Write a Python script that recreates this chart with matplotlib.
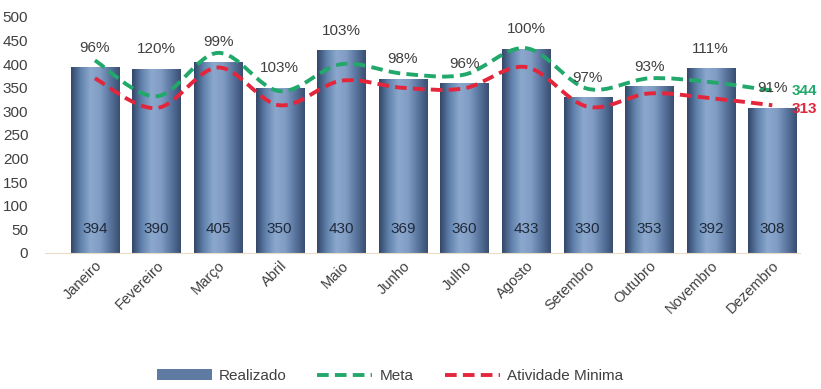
import numpy as np
import matplotlib
import matplotlib.pyplot as plt
from matplotlib.path import Path
from matplotlib.patches import PathPatch, Patch
from matplotlib.lines import Line2D
from matplotlib.colors import LinearSegmentedColormap

matplotlib.rcParams['font.family'] = ['Liberation Sans', 'DejaVu Sans']
matplotlib.rcParams['font.size'] = 10

meses = ['Janeiro', 'Fevereiro', 'Março', 'Abril', 'Maio', 'Junho', 'Julho',
         'Agosto', 'Setembro', 'Outubro', 'Novembro', 'Dezembro']
realizado = [394, 390, 405, 350, 430, 369, 360, 433, 330, 353, 392, 308]
meta = [408, 332, 424, 343, 400, 380, 378, 434, 348, 370, 362, 344]
atividade_minima = [370, 307, 393, 313, 365, 350, 349, 394, 310, 338, 328, 313]
percentuais = ['96%', '120%', '99%', '103%', '103%', '98%', '96%', '100%',
               '97%', '93%', '111%', '91%']

cor_meta = '#22a86a'
cor_min = '#e3263b'
cor_texto = '#404040'

fig = plt.figure(figsize=(8.21, 3.89), dpi=100)
ax = fig.add_axes([45 / 821, 1 - 253 / 389, 755 / 821, 236 / 389])

x = np.arange(len(meses))
bars = ax.bar(x, realizado, width=0.78, color='none', zorder=2)

# gradiente horizontal tipo "cilindro" do Excel
cmap = LinearSegmentedColormap.from_list(
    'barra', ['#34486a', '#6283ad', '#8ca8cd', '#809cc3', '#5a769f', '#3a4f72'])
grad = np.linspace(0, 1, 64).reshape(1, -1)
for b in bars:
    x0, y0 = b.get_x(), b.get_y()
    w, h = b.get_width(), b.get_height()
    im = ax.imshow(grad, cmap=cmap, aspect='auto', extent=(x0, x0 + w, y0, y0 + h),
                   zorder=2, interpolation='bilinear')
    im.set_clip_path(b)


def curva_suave(xs, ys):
    pts = np.column_stack([xs, ys]).astype(float)
    n = len(pts)
    verts = [pts[0]]
    codes = [Path.MOVETO]
    for i in range(n - 1):
        p0 = pts[max(i - 1, 0)]
        p1 = pts[i]
        p2 = pts[i + 1]
        p3 = pts[min(i + 2, n - 1)]
        c1 = p1 + (p2 - p0) / 6
        c2 = p2 - (p3 - p1) / 6
        verts += [c1, c2, p2]
        codes += [Path.CURVE4] * 3
    return Path(verts, codes)


for serie, cor, z in [(atividade_minima, cor_min, 3), (meta, cor_meta, 4)]:
    patch = PathPatch(curva_suave(x, serie), fill=False, edgecolor=cor, lw=2.8,
                      linestyle=(0, (3, 1.6)), zorder=z, capstyle='butt')
    ax.add_patch(patch)

for i, v in enumerate(realizado):
    ax.text(x[i], 50, str(v), ha='center', va='center', color='#1f2a3a', fontsize=11, zorder=5)
    ax.annotate(percentuais[i], (x[i], v), xytext=(0, 14), textcoords='offset points',
                ha='center', va='center', color=cor_texto, fontsize=11, zorder=5)

ax.annotate(str(meta[-1]), (x[-1], meta[-1]), xytext=(14, 0), textcoords='offset points',
            ha='left', va='center', color=cor_meta, fontsize=11, fontweight='bold')
ax.annotate(str(atividade_minima[-1]), (x[-1], atividade_minima[-1]), xytext=(14, -3),
            textcoords='offset points', ha='left', va='center', color=cor_min,
            fontsize=11, fontweight='bold')

ax.set_xlim(-0.81, 11.45)
ax.set_ylim(0, 500)
ax.set_yticks(range(0, 501, 50))
ax.set_xticks(x)
ax.set_xticklabels(meses, rotation=45, ha='right', rotation_mode='anchor', color=cor_texto)
ax.tick_params(axis='y', length=0, colors=cor_texto, pad=12, labelsize=11)
ax.tick_params(axis='x', length=0, pad=4, labelsize=10.5)
for s in ['top', 'right', 'left']:
    ax.spines[s].set_visible(False)
ax.spines['bottom'].set_color('#e8dcc8')

handles = [Patch(facecolor='#5f7ba3', edgecolor='none'),
           Line2D([], [], color=cor_meta, lw=2.8, linestyle=(0, (3, 1.6))),
           Line2D([], [], color=cor_min, lw=2.8, linestyle=(0, (3, 1.6)))]
fig.legend(handles, ['Realizado', 'Meta', 'Atividade Minima'], loc='center',
           bbox_to_anchor=(390 / 821, 1 - 376 / 389), ncol=3, frameon=False,
           fontsize=11, handlelength=3.6, handletextpad=0.5, columnspacing=2.0,
           labelcolor=cor_texto)

fig.savefig('out.png', dpi=100)
